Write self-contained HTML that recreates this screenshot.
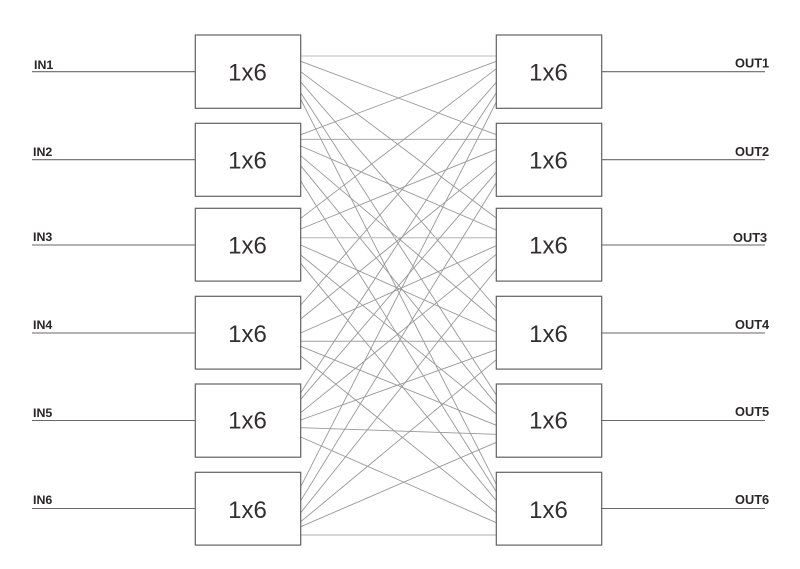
<!DOCTYPE html>
<html lang="en"><head><meta charset="utf-8"><title>6x6 shuffle</title>
<style>html,body{margin:0;padding:0;background:#fff}svg{display:block}</style></head>
<body>
<svg xmlns="http://www.w3.org/2000/svg" width="800" height="569" viewBox="0 0 800 569">
<rect width="800" height="569" fill="#fff"/>
<g stroke="#9a9797" stroke-width="0.9" fill="none">
<line x1="300.7" y1="56" x2="496.3" y2="56" stroke="#bdbcbc" stroke-width="1"/>
<line x1="300.7" y1="61.3" x2="496.3" y2="134.7"/>
<line x1="300.7" y1="71.7" x2="496.3" y2="218"/>
<line x1="300.7" y1="82" x2="496.3" y2="308"/>
<line x1="300.7" y1="92.7" x2="496.3" y2="395"/>
<line x1="300.7" y1="99.3" x2="496.3" y2="484.3"/>
<line x1="300.7" y1="134.7" x2="496.3" y2="61.3"/>
<line x1="300.7" y1="139.3" x2="496.3" y2="139.3"/>
<line x1="300.7" y1="146" x2="496.3" y2="230"/>
<line x1="300.7" y1="155.7" x2="496.3" y2="321"/>
<line x1="300.7" y1="165.7" x2="496.3" y2="404.3"/>
<line x1="300.7" y1="181" x2="496.3" y2="491.7"/>
<line x1="300.7" y1="218.3" x2="496.3" y2="68.7"/>
<line x1="300.7" y1="229" x2="496.3" y2="149.3"/>
<line x1="300.7" y1="237.7" x2="496.3" y2="237.7" stroke="#c8c7c7" stroke-width="1.3"/>
<line x1="300.7" y1="245" x2="496.3" y2="332"/>
<line x1="300.7" y1="255" x2="496.3" y2="414"/>
<line x1="300.7" y1="263.3" x2="496.3" y2="500.7"/>
<line x1="300.7" y1="305" x2="496.3" y2="82.3"/>
<line x1="300.7" y1="319" x2="496.3" y2="160.7"/>
<line x1="300.7" y1="333" x2="496.3" y2="245.7"/>
<line x1="300.7" y1="341.3" x2="496.3" y2="341.3" stroke="#a59c9d" stroke-width="1"/>
<line x1="300.7" y1="346.3" x2="496.3" y2="425.3"/>
<line x1="300.7" y1="356" x2="496.3" y2="512.7"/>
<line x1="300.7" y1="392.7" x2="496.3" y2="92.7"/>
<line x1="300.7" y1="399.3" x2="496.3" y2="172.3"/>
<line x1="300.7" y1="412.7" x2="496.3" y2="254.3"/>
<line x1="300.7" y1="420" x2="496.3" y2="349.7"/>
<line x1="300.7" y1="427.7" x2="496.3" y2="434.3"/>
<line x1="300.7" y1="437" x2="496.3" y2="522.7"/>
<line x1="300.7" y1="486.7" x2="496.3" y2="102"/>
<line x1="300.7" y1="500.7" x2="496.3" y2="183"/>
<line x1="300.7" y1="512.7" x2="496.3" y2="269"/>
<line x1="300.7" y1="521.7" x2="496.3" y2="359.7"/>
<line x1="300.7" y1="526.7" x2="496.3" y2="442.3"/>
<line x1="300.7" y1="535" x2="496.3" y2="535" stroke="#c0bfbf" stroke-width="1.2"/>
</g>
<g stroke="#6b6667" stroke-width="1.1" fill="none">
<line x1="32" y1="71.7" x2="195.3" y2="71.7"/>
<line x1="32" y1="159.7" x2="195.3" y2="159.7"/>
<line x1="32" y1="245" x2="195.3" y2="245"/>
<line x1="32" y1="333" x2="195.3" y2="333"/>
<line x1="32" y1="420.5" x2="195.3" y2="420.5"/>
<line x1="32" y1="508.5" x2="195.3" y2="508.5"/>
<line x1="601.7" y1="71.7" x2="765" y2="71.7"/>
<line x1="601.7" y1="159.7" x2="765" y2="159.7"/>
<line x1="601.7" y1="245" x2="765" y2="245"/>
<line x1="601.7" y1="333" x2="765" y2="333"/>
<line x1="601.7" y1="420.5" x2="765" y2="420.5"/>
<line x1="601.7" y1="508.5" x2="765" y2="508.5"/>
</g>
<g stroke="#646061" stroke-width="1.2" fill="#fff">
<rect x="195.3" y="35" width="105.4" height="73.3"/>
<rect x="195.3" y="123.3" width="105.4" height="73"/>
<rect x="195.3" y="208.3" width="105.4" height="72.8"/>
<rect x="195.3" y="296.3" width="105.4" height="72.8"/>
<rect x="195.3" y="384" width="105.4" height="73.2"/>
<rect x="195.3" y="472.3" width="105.4" height="72.8"/>
<rect x="496.3" y="35" width="105.4" height="73.3"/>
<rect x="496.3" y="123.3" width="105.4" height="73"/>
<rect x="496.3" y="208.3" width="105.4" height="72.8"/>
<rect x="496.3" y="296.3" width="105.4" height="72.8"/>
<rect x="496.3" y="384" width="105.4" height="73.2"/>
<rect x="496.3" y="472.3" width="105.4" height="72.8"/>
</g>
<g font-family="'Liberation Sans',Arial,sans-serif" font-size="24" fill="#332e2f" text-anchor="middle">
<text x="247.5" y="80.5">1x6</text>
<text x="247.5" y="168.5">1x6</text>
<text x="247.5" y="253.5">1x6</text>
<text x="247.5" y="342">1x6</text>
<text x="247.5" y="428.5">1x6</text>
<text x="247.5" y="518">1x6</text>
<text x="548.5" y="80.5">1x6</text>
<text x="548.5" y="168.5">1x6</text>
<text x="548.5" y="253.5">1x6</text>
<text x="548.5" y="342">1x6</text>
<text x="548.5" y="428.5">1x6</text>
<text x="548.5" y="518">1x6</text>
</g>
<g font-family="'Liberation Sans',Arial,sans-serif" font-size="12.4" font-weight="bold" fill="#2a2526">
<text x="34" y="69">IN1</text>
<text x="33" y="156">IN2</text>
<text x="33" y="241">IN3</text>
<text x="33" y="329">IN4</text>
<text x="33" y="417">IN5</text>
<text x="33" y="504">IN6</text>
<text x="735" y="67.5" font-size="12.8">OUT1</text>
<text x="735" y="156" font-size="12.8">OUT2</text>
<text x="733" y="242" font-size="12.8">OUT3</text>
<text x="735" y="329" font-size="12.8">OUT4</text>
<text x="735" y="416" font-size="12.8">OUT5</text>
<text x="735" y="504" font-size="12.8">OUT6</text>
</g>
</svg>
</body></html>
